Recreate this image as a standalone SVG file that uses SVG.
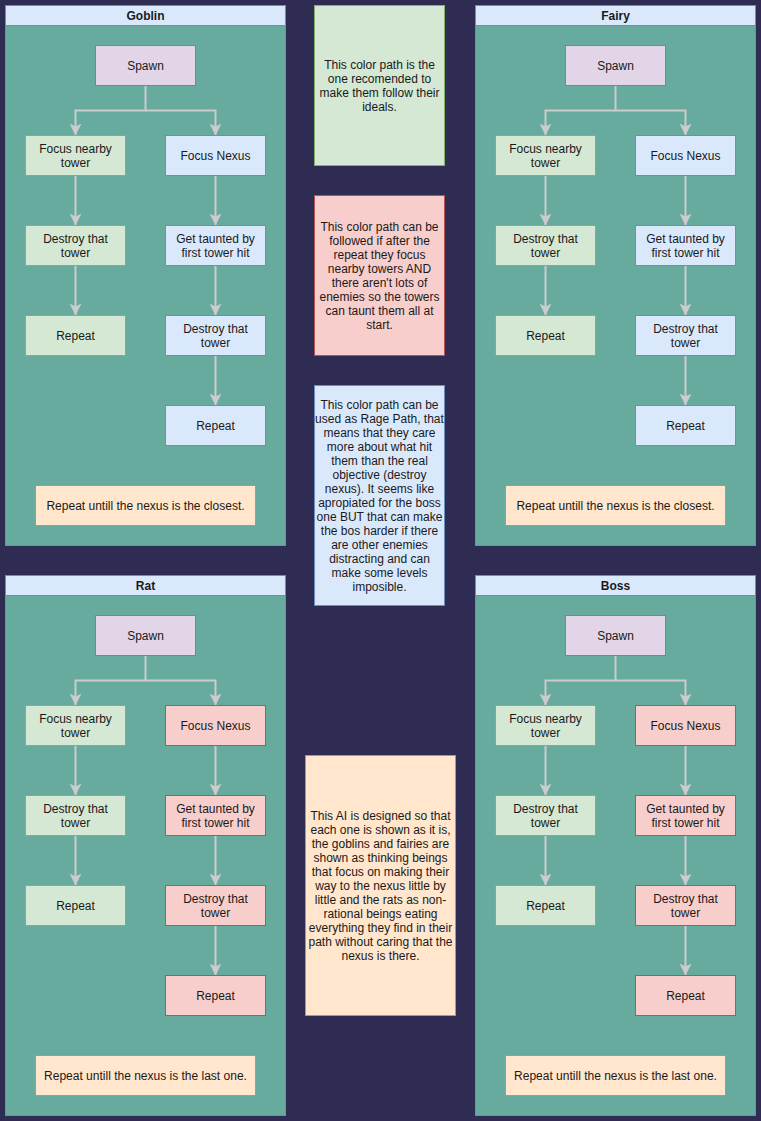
<svg xmlns="http://www.w3.org/2000/svg" width="761" height="1121" viewBox="0 0 761 1121">
<style>
text{font-family:"Liberation Sans",Arial,sans-serif;font-size:12px;fill:#1a1a1a;text-anchor:middle}
.t{font-weight:bold}
.panel{fill:#67ab9f;stroke:#6c8ebf}
.hdr{fill:#dae8fc;stroke:#6c8ebf}
.g{fill:#d5e8d4;stroke:#82b366}
.b{fill:#dae8fc;stroke:#6c8ebf}
.r{fill:#f8cecc;stroke:#b85450}
.p{fill:#e1d5e7;stroke:#9673a6}
.o{fill:#ffe6cc;stroke:#d79b00}
.c{fill:none;stroke:#cccccc;stroke-width:2}
</style>
<defs>
<marker id="ah" markerUnits="userSpaceOnUse" viewBox="0 0 12 12" refX="12" refY="6" markerWidth="12" markerHeight="12" orient="auto">
<path d="M0,0 L12,6 L0,12 L3,6 Z" fill="#cccccc"/>
</marker>
</defs>
<rect x="0" y="0" width="761" height="1121" fill="#2f2c54"/>

<!-- Goblin -->
<g id="goblin">
<g id="goblin-panel"><rect class="panel" x="5.5" y="5.5" width="280" height="540"/><rect class="hdr" x="5.5" y="5.5" width="280" height="20"/><text class="t" x="145.5" y="19.5">Goblin</text></g>
<g id="goblin-conn">
<path class="c" d="M145.5,85.5 V110.5 H75.5 V135.5" marker-end="url(#ah)"/>
<path class="c" d="M145.5,110.5 H215.5 V135.5" marker-end="url(#ah)"/>
<path class="c" d="M75.5,175.5 V225.5" marker-end="url(#ah)"/>
<path class="c" d="M75.5,265.5 V315.5" marker-end="url(#ah)"/>
<path class="c" d="M215.5,175.5 V225.5" marker-end="url(#ah)"/>
<path class="c" d="M215.5,265.5 V315.5" marker-end="url(#ah)"/>
<path class="c" d="M215.5,355.5 V405.5" marker-end="url(#ah)"/>
</g>
<g id="goblin-spawn"><rect class="p" x="95.5" y="45.5" width="100" height="40"/><text x="145.5" y="69.5">Spawn</text></g>
<g id="goblin-focus-tower"><rect class="g" x="25.5" y="135.5" width="100" height="40"/><text x="75.5" y="152.5">Focus nearby</text><text x="75.5" y="166.5">tower</text></g>
<g id="goblin-focus-nexus"><rect class="b" x="165.5" y="135.5" width="100" height="40"/><text x="215.5" y="159.5">Focus Nexus</text></g>
<g id="goblin-destroy-l"><rect class="g" x="25.5" y="225.5" width="100" height="40"/><text x="75.5" y="242.5">Destroy that</text><text x="75.5" y="256.5">tower</text></g>
<g id="goblin-repeat-l"><rect class="g" x="25.5" y="315.5" width="100" height="40"/><text x="75.5" y="339.5">Repeat</text></g>
<g id="goblin-taunt"><rect class="b" x="165.5" y="225.5" width="100" height="40"/><text x="215.5" y="242.5">Get taunted by</text><text x="215.5" y="256.5">first tower hit</text></g>
<g id="goblin-destroy-r"><rect class="b" x="165.5" y="315.5" width="100" height="40"/><text x="215.5" y="332.5">Destroy that</text><text x="215.5" y="346.5">tower</text></g>
<g id="goblin-repeat-r"><rect class="b" x="165.5" y="405.5" width="100" height="40"/><text x="215.5" y="429.5">Repeat</text></g>
<g id="goblin-note"><rect class="o" x="35.5" y="485.5" width="220" height="40"/><text x="145.5" y="509.5">Repeat untill the nexus is the closest.</text></g>
</g>

<!-- Fairy -->
<g id="fairy" transform="translate(470,0)">
<g id="fairy-panel"><rect class="panel" x="5.5" y="5.5" width="280" height="540"/><rect class="hdr" x="5.5" y="5.5" width="280" height="20"/><text class="t" x="145.5" y="19.5">Fairy</text></g>
<g id="fairy-conn">
<path class="c" d="M145.5,85.5 V110.5 H75.5 V135.5" marker-end="url(#ah)"/>
<path class="c" d="M145.5,110.5 H215.5 V135.5" marker-end="url(#ah)"/>
<path class="c" d="M75.5,175.5 V225.5" marker-end="url(#ah)"/>
<path class="c" d="M75.5,265.5 V315.5" marker-end="url(#ah)"/>
<path class="c" d="M215.5,175.5 V225.5" marker-end="url(#ah)"/>
<path class="c" d="M215.5,265.5 V315.5" marker-end="url(#ah)"/>
<path class="c" d="M215.5,355.5 V405.5" marker-end="url(#ah)"/>
</g>
<g id="fairy-spawn"><rect class="p" x="95.5" y="45.5" width="100" height="40"/><text x="145.5" y="69.5">Spawn</text></g>
<g id="fairy-focus-tower"><rect class="g" x="25.5" y="135.5" width="100" height="40"/><text x="75.5" y="152.5">Focus nearby</text><text x="75.5" y="166.5">tower</text></g>
<g id="fairy-focus-nexus"><rect class="b" x="165.5" y="135.5" width="100" height="40"/><text x="215.5" y="159.5">Focus Nexus</text></g>
<g id="fairy-destroy-l"><rect class="g" x="25.5" y="225.5" width="100" height="40"/><text x="75.5" y="242.5">Destroy that</text><text x="75.5" y="256.5">tower</text></g>
<g id="fairy-repeat-l"><rect class="g" x="25.5" y="315.5" width="100" height="40"/><text x="75.5" y="339.5">Repeat</text></g>
<g id="fairy-taunt"><rect class="b" x="165.5" y="225.5" width="100" height="40"/><text x="215.5" y="242.5">Get taunted by</text><text x="215.5" y="256.5">first tower hit</text></g>
<g id="fairy-destroy-r"><rect class="b" x="165.5" y="315.5" width="100" height="40"/><text x="215.5" y="332.5">Destroy that</text><text x="215.5" y="346.5">tower</text></g>
<g id="fairy-repeat-r"><rect class="b" x="165.5" y="405.5" width="100" height="40"/><text x="215.5" y="429.5">Repeat</text></g>
<g id="fairy-note"><rect class="o" x="35.5" y="485.5" width="220" height="40"/><text x="145.5" y="509.5">Repeat untill the nexus is the closest.</text></g>
</g>

<!-- Rat -->
<g id="rat" transform="translate(0,570)">
<g id="rat-panel"><rect class="panel" x="5.5" y="5.5" width="280" height="540"/><rect class="hdr" x="5.5" y="5.5" width="280" height="20"/><text class="t" x="145.5" y="19.5">Rat</text></g>
<g id="rat-conn">
<path class="c" d="M145.5,85.5 V110.5 H75.5 V135.5" marker-end="url(#ah)"/>
<path class="c" d="M145.5,110.5 H215.5 V135.5" marker-end="url(#ah)"/>
<path class="c" d="M75.5,175.5 V225.5" marker-end="url(#ah)"/>
<path class="c" d="M75.5,265.5 V315.5" marker-end="url(#ah)"/>
<path class="c" d="M215.5,175.5 V225.5" marker-end="url(#ah)"/>
<path class="c" d="M215.5,265.5 V315.5" marker-end="url(#ah)"/>
<path class="c" d="M215.5,355.5 V405.5" marker-end="url(#ah)"/>
</g>
<g id="rat-spawn"><rect class="p" x="95.5" y="45.5" width="100" height="40"/><text x="145.5" y="69.5">Spawn</text></g>
<g id="rat-focus-tower"><rect class="g" x="25.5" y="135.5" width="100" height="40"/><text x="75.5" y="152.5">Focus nearby</text><text x="75.5" y="166.5">tower</text></g>
<g id="rat-focus-nexus"><rect class="r" x="165.5" y="135.5" width="100" height="40"/><text x="215.5" y="159.5">Focus Nexus</text></g>
<g id="rat-destroy-l"><rect class="g" x="25.5" y="225.5" width="100" height="40"/><text x="75.5" y="242.5">Destroy that</text><text x="75.5" y="256.5">tower</text></g>
<g id="rat-repeat-l"><rect class="g" x="25.5" y="315.5" width="100" height="40"/><text x="75.5" y="339.5">Repeat</text></g>
<g id="rat-taunt"><rect class="r" x="165.5" y="225.5" width="100" height="40"/><text x="215.5" y="242.5">Get taunted by</text><text x="215.5" y="256.5">first tower hit</text></g>
<g id="rat-destroy-r"><rect class="r" x="165.5" y="315.5" width="100" height="40"/><text x="215.5" y="332.5">Destroy that</text><text x="215.5" y="346.5">tower</text></g>
<g id="rat-repeat-r"><rect class="r" x="165.5" y="405.5" width="100" height="40"/><text x="215.5" y="429.5">Repeat</text></g>
<g id="rat-note"><rect class="o" x="35.5" y="485.5" width="220" height="40"/><text x="145.5" y="509.5">Repeat untill the nexus is the last one.</text></g>
</g>

<!-- Boss -->
<g id="boss" transform="translate(470,570)">
<g id="boss-panel"><rect class="panel" x="5.5" y="5.5" width="280" height="540"/><rect class="hdr" x="5.5" y="5.5" width="280" height="20"/><text class="t" x="145.5" y="19.5">Boss</text></g>
<g id="boss-conn">
<path class="c" d="M145.5,85.5 V110.5 H75.5 V135.5" marker-end="url(#ah)"/>
<path class="c" d="M145.5,110.5 H215.5 V135.5" marker-end="url(#ah)"/>
<path class="c" d="M75.5,175.5 V225.5" marker-end="url(#ah)"/>
<path class="c" d="M75.5,265.5 V315.5" marker-end="url(#ah)"/>
<path class="c" d="M215.5,175.5 V225.5" marker-end="url(#ah)"/>
<path class="c" d="M215.5,265.5 V315.5" marker-end="url(#ah)"/>
<path class="c" d="M215.5,355.5 V405.5" marker-end="url(#ah)"/>
</g>
<g id="boss-spawn"><rect class="p" x="95.5" y="45.5" width="100" height="40"/><text x="145.5" y="69.5">Spawn</text></g>
<g id="boss-focus-tower"><rect class="g" x="25.5" y="135.5" width="100" height="40"/><text x="75.5" y="152.5">Focus nearby</text><text x="75.5" y="166.5">tower</text></g>
<g id="boss-focus-nexus"><rect class="r" x="165.5" y="135.5" width="100" height="40"/><text x="215.5" y="159.5">Focus Nexus</text></g>
<g id="boss-destroy-l"><rect class="g" x="25.5" y="225.5" width="100" height="40"/><text x="75.5" y="242.5">Destroy that</text><text x="75.5" y="256.5">tower</text></g>
<g id="boss-repeat-l"><rect class="g" x="25.5" y="315.5" width="100" height="40"/><text x="75.5" y="339.5">Repeat</text></g>
<g id="boss-taunt"><rect class="r" x="165.5" y="225.5" width="100" height="40"/><text x="215.5" y="242.5">Get taunted by</text><text x="215.5" y="256.5">first tower hit</text></g>
<g id="boss-destroy-r"><rect class="r" x="165.5" y="315.5" width="100" height="40"/><text x="215.5" y="332.5">Destroy that</text><text x="215.5" y="346.5">tower</text></g>
<g id="boss-repeat-r"><rect class="r" x="165.5" y="405.5" width="100" height="40"/><text x="215.5" y="429.5">Repeat</text></g>
<g id="boss-note"><rect class="o" x="35.5" y="485.5" width="220" height="40"/><text x="145.5" y="509.5">Repeat untill the nexus is the last one.</text></g>
</g>

<!-- Center notes -->
<g id="note-green"><rect class="g" x="314.5" y="5.5" width="130" height="160"/>
<text x="379.5" y="68.5">This color path is the</text><text x="379.5" y="82.5">one recomended to</text><text x="379.5" y="96.5">make them follow their</text><text x="379.5" y="110.5">ideals.</text></g>
<g id="note-red"><rect class="r" x="314.5" y="195.5" width="130" height="160"/>
<text x="379.5" y="230.5">This color path can be</text><text x="379.5" y="244.5">followed if after the</text><text x="379.5" y="258.5">repeat they focus</text><text x="379.5" y="272.5">nearby towers AND</text><text x="379.5" y="286.5">there aren't lots of</text><text x="379.5" y="300.5">enemies so the towers</text><text x="379.5" y="314.5">can taunt them all at</text><text x="379.5" y="328.5">start.</text></g>
<g id="note-blue"><rect class="b" x="314.5" y="385.5" width="130" height="220"/>
<text x="379.5" y="408.5">This color path can be</text><text x="379.5" y="422.5">used as Rage Path, that</text><text x="379.5" y="436.5">means that they care</text><text x="379.5" y="450.5">more about what hit</text><text x="379.5" y="464.5">them than the real</text><text x="379.5" y="478.5">objective (destroy</text><text x="379.5" y="492.5">nexus). It seems like</text><text x="379.5" y="506.5">apropiated for the boss</text><text x="379.5" y="520.5">one BUT that can make</text><text x="379.5" y="534.5">the bos harder if there</text><text x="379.5" y="548.5">are other enemies</text><text x="379.5" y="562.5">distracting and can</text><text x="379.5" y="576.5">make some levels</text><text x="379.5" y="590.5">imposible.</text></g>
<g id="note-orange"><rect class="o" x="305.5" y="755.5" width="150" height="260"/>
<text x="380.5" y="819.5">This AI is designed so that</text><text x="380.5" y="833.5">each one is shown as it is,</text><text x="380.5" y="847.5">the goblins and fairies are</text><text x="380.5" y="861.5">shown as thinking beings</text><text x="380.5" y="875.5">that focus on making their</text><text x="380.5" y="889.5">way to the nexus little by</text><text x="380.5" y="903.5">little and the rats as non-</text><text x="380.5" y="917.5">rational beings eating</text><text x="380.5" y="931.5">everything they find in their</text><text x="380.5" y="945.5">path without caring that the</text><text x="380.5" y="959.5">nexus is there.</text></g>
</svg>
